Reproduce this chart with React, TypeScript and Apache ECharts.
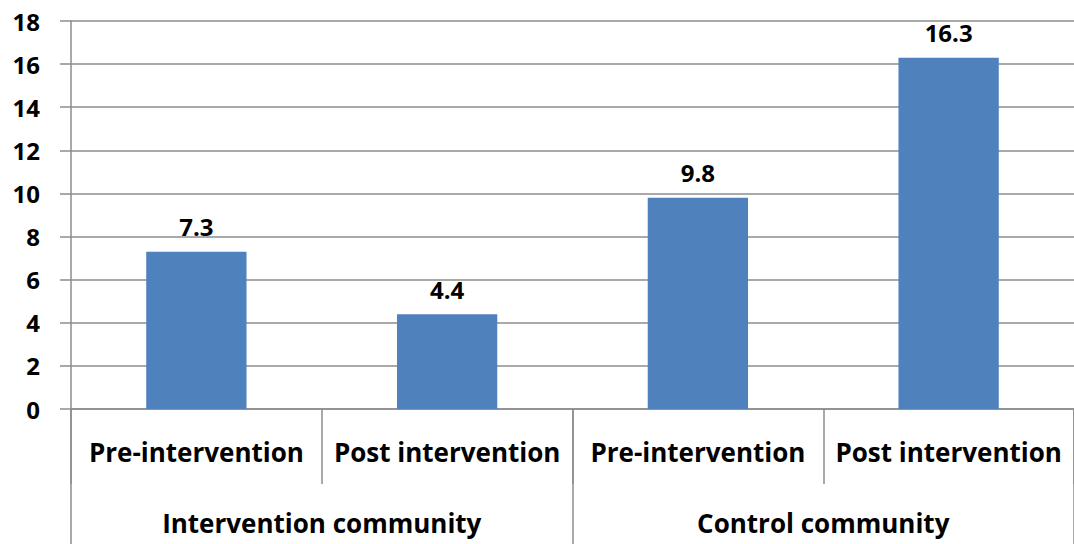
import React, { useEffect, useRef } from "react";
import * as echarts from "echarts";

const categories = ["Pre-intervention", "Post intervention", "Pre-intervention", "Post intervention"];
const groups = ["Intervention community", "Control community"];
const values = [7.3, 4.4, 9.8, 16.3];

const FONT = "'Open Sans', sans-serif";
const GRID_COLOR = "#8c8c8c";
const FS = 26;

export default function App() {
  const ref = useRef<HTMLDivElement>(null);
  useEffect(() => {
    if (!ref.current) return;
    const chart = echarts.init(ref.current, null, { renderer: "svg" });
    chart.setOption({
      animation: false,
      grid: { left: 71, right: 0, top: 21, bottom: 135, containLabel: false },
      xAxis: [
        {
          type: "category",
          data: categories,
          position: "bottom",
          axisLine: { show: true, lineStyle: { color: GRID_COLOR, width: 1.5 } },
          axisTick: { show: true, length: 75, lineStyle: { color: GRID_COLOR, width: 1.5 } },
          axisLabel: { margin: 30, color: "#000", fontFamily: FONT, fontWeight: "bold", fontSize: FS, interval: 0 },
        },
        {
          type: "category",
          data: groups,
          position: "bottom",
          axisLine: { show: false },
          axisTick: { show: true, length: 140, lineStyle: { color: GRID_COLOR, width: 1.5 } },
          axisLabel: { margin: 101, color: "#000", fontFamily: FONT, fontWeight: "bold", fontSize: FS, interval: 0 },
          splitLine: { show: false },
        },
      ],
      yAxis: {
        type: "value",
        min: 0,
        max: 18,
        interval: 2,
        axisLine: { show: true, lineStyle: { color: GRID_COLOR, width: 1.5 } },
        axisTick: { show: true, length: 11, lineStyle: { color: GRID_COLOR, width: 1.5 } },
        axisLabel: { margin: 31, color: "#000", fontFamily: FONT, fontWeight: "bold", fontSize: 24 },
        splitLine: { show: true, lineStyle: { color: GRID_COLOR, width: 1.5 } },
      },
      series: [
        {
          type: "bar",
          xAxisIndex: 0,
          data: values,
          barWidth: "40%",
          itemStyle: { color: "#4F81BD" },
          label: {
            show: true,
            position: "top",
            distance: 13,
            color: "#000",
            fontFamily: FONT,
            fontWeight: "bold",
            fontSize: 24,
            formatter: (p: any) => p.value.toFixed(1),
          },
        },
      ],
    });
    return () => chart.dispose();
  }, []);
  return <div ref={ref} style={{ width: 1074, height: 544, position: "absolute", left: 0, top: 0 }} />;
}
